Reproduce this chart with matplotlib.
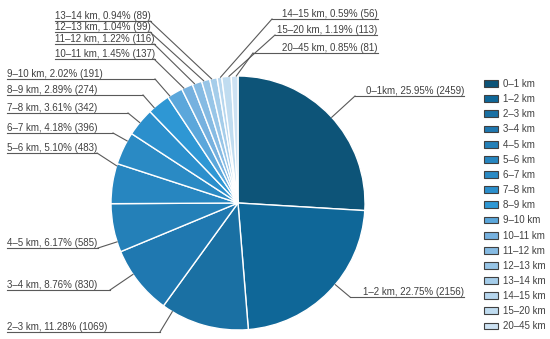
import math
import matplotlib
matplotlib.use("Agg")
import matplotlib.pyplot as plt
from matplotlib.patches import Patch

plt.rcParams['font.family'] = ['Liberation Sans', 'DejaVu Sans']

# distance classes and counts
categories = ["0–1 km", "1–2 km", "2–3 km", "3–4 km", "4–5 km", "5–6 km", "6–7 km",
              "7–8 km", "8–9 km", "9–10 km", "10–11 km", "11–12 km", "12–13 km",
              "13–14 km", "14–15 km", "15–20 km", "20–45 km"]
label_names = ["0–1km", "1–2 km", "2–3 km", "3–4 km", "4–5 km", "5–6 km", "6–7 km",
               "7–8 km", "8–9 km", "9–10 km", "10–11 km", "11–12 km", "12–13 km",
               "13–14 km", "14–15 km", "15–20 km", "20–45 km"]
counts = [2459, 2156, 1069, 830, 585, 483, 396, 342, 274, 191, 137, 116, 99, 89, 56, 113, 81]
percents = [25.95, 22.75, 11.28, 8.76, 6.17, 5.10, 4.18, 3.61, 2.89, 2.02, 1.45, 1.22,
            1.04, 0.94, 0.59, 1.19, 0.85]
colors = ["#0d5478", "#0f6798", "#1a70a3", "#1f78b0", "#2480b8", "#2786c0", "#2a8ac4",
          "#2b8fcc", "#2e97d4", "#5ba7db", "#76b1df", "#86bbe3", "#97c5e7", "#a5cdea",
          "#b6d6ee", "#c0dcf0", "#cde2f3"]

W, H = 550, 339
cx, cy, R = 238, H - 203, 127

# label placement: (text x, underline y from top, knee x, side)
label_pos = {
    0: (366, 96, 355, "r"),
    1: (363, 297, 350, "r"),
    2: (7, 332, 160, "l"),
    3: (7, 290, 110, "l"),
    4: (7, 248, 98, "l"),
    5: (7, 153, 97, "l"),
    6: (7, 133, 113, "l"),
    7: (7, 113, 128, "l"),
    8: (7, 95, 143, "l"),
    9: (7, 79, 155, "l"),
    10: (55, 59, 154, "l"),
    11: (55, 44, 154, "l"),
    12: (55, 32, 150, "l"),
    13: (55, 21, 150, "l"),
    14: (282, 19, 272, "r"),
    15: (277, 35, 275, "r"),
    16: (282, 53, 253, "r"),
}

fig = plt.figure(figsize=(5.5, 3.39), dpi=100)
ax = fig.add_axes([0, 0, 1, 1])

wedges, _ = ax.pie(counts, colors=colors, startangle=90, counterclock=False,
                   center=(cx, cy), radius=R,
                   wedgeprops=dict(edgecolor="white", linewidth=1))
ax.set_xlim(0, W)
ax.set_ylim(0, H)
ax.set_aspect("auto")
ax.axis("off")

txt_color = "#404040"
line_color = "#595959"
texts = {}
for i, (tx, uy, kx, side) in label_pos.items():
    s = f"{label_names[i]}, {percents[i]:.2f}% ({counts[i]})"
    texts[i] = ax.text(tx, H - uy + 2.2, s, fontsize=7, color=txt_color,
                       ha="left", va="baseline")

fig.canvas.draw()
for i, (tx, uy, kx, side) in label_pos.items():
    bb = texts[i].get_window_extent()
    y = H - uy
    if side == "l":
        ax.plot([tx, max(kx, bb.x1)], [y, y], color=line_color, lw=0.8)
    else:
        ax.plot([kx, bb.x1], [y, y], color=line_color, lw=0.8)
    # leader line: from knee to the wedge edge, aimed at the knee direction
    w = wedges[i]
    t1, t2 = w.theta1, w.theta2
    a = math.degrees(math.atan2(y - cy, kx - cx))
    a = t1 + ((a - t1) % 360)
    pad = min(1.0, (t2 - t1) / 4)
    if a > t2:
        a = t2 - pad if (a - t2) < (t1 + 360 - a) else t1 + pad
    else:
        a = min(max(a, t1 + pad), t2 - pad)
    px = cx + R * math.cos(math.radians(a))
    py = cy + R * math.sin(math.radians(a))
    ax.plot([kx, px], [y, py], color=line_color, lw=0.8)

handles = [Patch(facecolor=c, edgecolor="#404040", linewidth=0.8) for c in colors]
ax.legend(handles, categories, loc="upper left", bbox_to_anchor=(484 / W, 1 - 79 / H),
          frameon=False, fontsize=7, handlelength=1.4, handleheight=0.7,
          handletextpad=0.55, labelspacing=0.53, borderpad=0, borderaxespad=0,
          labelcolor=txt_color)

fig.savefig("out.png", dpi=100)
